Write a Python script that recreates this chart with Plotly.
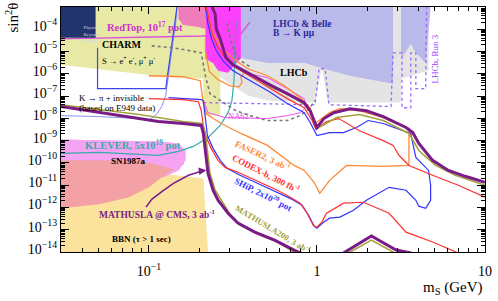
import plotly.graph_objects as go

FONT = "Liberation Serif"

# ---------------- shaded regions (mass in GeV, sin^2 theta) ----------------
bbn_m = [0.030, 0.131, 0.211, 0.225, 0.030]
bbn_s = [2.8e-11, 3.1e-11, 2.0e-11, 8e-15, 8e-15]

sn_m = [0.030, 0.160, 0.162, 0.131, 0.100, 0.0762, 0.0508, 0.030]
sn_s = [1.3e-10, 1.3e-10, 8.6e-11, 3.8e-11, 8.0e-12, 2.9e-12, 1.4e-12, 9.2e-13]

klever_m = [0.030, 0.114, 0.150, 0.165, 0.165, 0.150, 0.123, 0.0875, 0.0508, 0.030]
klever_s = [1.13e-9, 9.2e-10, 7.5e-10, 3.6e-10, 1.3e-10, 4.6e-11, 2.25e-11, 4.2e-11, 7.7e-11, 1.3e-10]

charm_m = [0.030, 0.266, 0.266, 0.211, 0.211, 0.123, 0.030]
charm_s = [1e-3, 1e-3, 1.33e-8, 1.33e-8, 6.0e-7, 7.4e-7, 2.55e-6]

lhcb_m = [0.217, 4.62, 4.62, 3.17, 3.17, 1.16, 1.07, 0.975, 0.508, 0.388, 0.296, 0.266, 0.266, 0.217]
lhcb_s = [1e-3, 1e-3, 1.37e-6, 6.0e-7, 5.1e-8, 5.1e-8, 1.87e-6, 5.1e-8, 6.3e-8, 1.05e-7, 4.0e-7, 7.4e-7, 3.8e-6, 4.7e-6]

belle_a_m = [0.353, 2.84, 2.84, 1.57, 1.10, 0.852, 0.508, 0.353]
belle_a_s = [1e-3, 1e-3, 3.6e-7, 8.2e-7, 1.69e-6, 3.1e-6, 3.1e-6, 5.2e-6]
belle_b_m = [3.17, 4.75, 4.44, 3.88, 3.62, 3.17]
belle_b_s = [1e-3, 1e-3, 3.1e-6, 8.8e-6, 2.2e-5, 4.7e-6]

pinktop_m = [0.150, 0.217, 0.217, 0.197, 0.160, 0.150]
pinktop_s = [1e-3, 1e-3, 1.04e-4, 1.28e-4, 1.57e-4, 2.9e-4]

magenta_m = [0.217, 0.353, 0.353, 0.296, 0.258, 0.241, 0.217]
magenta_s = [1e-3, 1e-3, 5.2e-6, 1.12e-6, 1.37e-6, 3.1e-6, 4.7e-6]

# ---------------- curves ----------------
redtop_m = [0.030, 0.205, 0.353, 0.399]
redtop_s = [3.7e-5, 5.0e-5, 6.2e-5, 2.1e-4]

mat_up_m = [0.238, 0.248, 0.252, 0.266, 0.276, 0.288, 0.317, 0.349, 0.415, 0.522, 0.666, 0.840,
            0.911, 0.975, 1.00, 1.10, 1.26, 1.57, 1.97, 2.48, 3.39, 3.72, 4.04, 4.88, 6.06, 7.62, 10.0]
mat_up_s = [1e-3, 4.9e-4, 1.04e-4, 3.7e-5, 1.47e-5, 5.2e-6, 2.55e-6, 1.69e-6, 8.2e-7, 3.25e-7, 1.29e-7, 5.1e-8,
            2.2e-8, 6.5e-9, 3.9e-9, 9.8e-9, 1.8e-8, 2.7e-8, 2.2e-8, 1.2e-8, 3.9e-9, 2.3e-9, 7.5e-10, 1.3e-10,
            4.6e-11, 2.5e-11, 1.35e-11]
mat_lo_m = [0.030, 0.0508, 0.0875, 0.114, 0.160, 0.205, 0.211, 0.217, 0.225, 0.241, 0.258, 0.296, 0.339,
            0.427, 0.560, 0.732, 0.817, 0.93, 1.25, 1.37, 1.44, 2.11, 2.96, 3.62, 3.88]
mat_lo_s = [3.4e-8, 1.8e-8, 9.8e-9, 7.2e-9, 5.9e-9, 4.8e-9, 2.1e-9, 3.6e-10, 3.4e-11, 5.9e-12, 2.1e-12,
            5.5e-13, 2.0e-13, 7.8e-14, 3.4e-14, 1.22e-14, 8.1e-15, 5.4e-15, 5.4e-15, 6.6e-15, 9e-15,
            5.2e-14, 1.22e-14, 9e-15, 6.6e-15]

m200_up_m = [0.245, 0.252, 0.258, 0.273, 0.288, 0.321, 0.358, 0.427, 0.530, 0.676, 0.852, 0.923, 0.975,
             1.00, 1.31, 1.79, 2.48, 3.53, 4.04, 5.08, 6.66, 10.0]
m200_up_s = [1e-3, 2.4e-4, 5.0e-5, 2.0e-5, 5.8e-6, 2.55e-6, 1.52e-6, 7.4e-7, 2.6e-7, 1.16e-7, 4.1e-8, 1.8e-8,
             5.3e-9, 3.5e-9, 1.09e-8, 1.48e-8, 8.0e-9, 2.1e-9, 3.6e-10, 7.7e-11, 2.8e-11, 9.9e-12]
m200_lo_m = [0.030, 0.0508, 0.0875, 0.160, 0.208, 0.217, 0.223, 0.231, 0.248, 0.269, 0.304, 0.349, 0.444,
             0.582, 0.694, 0.763, 1.00, 1.31, 1.50, 2.11, 2.84, 3.17]
m200_lo_s = [4.1e-8, 2.5e-8, 1.48e-8, 7.2e-9, 5.9e-9, 2.1e-9, 3.6e-10, 3.4e-11, 5.9e-12, 2.1e-12, 5.0e-13,
             1.6e-13, 6.4e-14, 2.8e-14, 1.22e-14, 8.1e-15, 3.5e-15, 5.4e-15, 8.1e-15, 3.4e-14, 1.0e-14, 6.6e-15]

codex_up_m = [0.220, 0.223, 0.229, 0.238, 0.258, 0.288, 0.330, 0.415, 0.522, 0.666, 0.840, 0.936, 0.987,
              1.14, 1.35, 1.79, 2.48, 2.84, 3.08, 3.53, 4.88, 6.94, 10.0]
codex_up_s = [1e-3, 6.6e-4, 2.4e-4, 6.2e-5, 1.47e-5, 4.7e-6, 1.87e-6, 6.7e-7, 2.4e-7, 7.7e-8, 3.0e-8, 8.0e-9,
              3.2e-9, 7.2e-9, 9.8e-9, 2.8e-9, 1.0e-9, 6.1e-10, 2.2e-10, 7.7e-11, 2.8e-11, 9.9e-12, 2.9e-12]
codex_lo_m = [0.100, 0.160, 0.197, 0.205, 0.211, 0.217, 0.235, 0.258, 0.284, 0.339, 0.444, 0.582, 0.694,
              0.795, 0.875, 0.949, 1.00, 1.07, 1.14, 1.44, 1.89, 2.69, 3.39, 4.88, 6.94, 7.62]
codex_lo_s = [7.7e-8, 6.9e-8, 5.6e-8, 2.2e-8, 4.8e-9, 1.7e-9, 4.5e-10, 1.3e-10, 6.3e-11, 3.8e-11, 1.49e-11,
              5.9e-12, 2.9e-12, 1.55e-12, 5.5e-13, 1.6e-13, 1.3e-13, 2.2e-13, 5.5e-13, 1.55e-12, 1.71e-12,
              5.5e-13, 7.8e-14, 2.8e-14, 9e-15, 6.6e-15]

ship_m = [0.131, 0.172, 0.205, 0.211, 0.217, 0.223, 0.241, 0.266, 0.292, 0.349, 0.456, 0.598, 0.713, 0.817,
          0.898, 0.962, 1.00, 1.10, 1.19, 1.37, 1.65, 1.97, 2.48, 2.69, 3.39, 3.72, 3.88, 4.04, 4.44, 4.75,
          4.75, 4.62, 3.88, 3.72, 3.62, 3.25, 2.48, 2.02, 1.72, 1.44, 1.19, 1.00, 0.962, 0.911, 0.840, 0.666,
          0.522, 0.362, 0.317, 0.276, 0.252, 0.235, 0.225, 0.220, 0.217]
ship_s = [8.5e-8, 7.7e-8, 6.9e-8, 6.3e-8, 8.0e-9, 1.7e-9, 4.5e-10, 1.3e-10, 5.7e-11, 2.8e-11, 1.1e-11,
          4.3e-12, 2.3e-12, 1.26e-12, 4.1e-13, 1.45e-13, 1.18e-13, 2.2e-13, 3.3e-13, 3.7e-13, 7.5e-13, 2.1e-12,
          5.9e-12, 8.0e-12, 5.9e-12, 2.9e-12, 2.1e-12, 1.14e-12, 9.2e-13, 2.1e-12, 9.9e-12, 4.6e-11, 1.77e-10,
          7.5e-10, 2.1e-9, 2.8e-9, 5.9e-9, 8.0e-9, 3.9e-9, 2.3e-9, 2.3e-9, 1.7e-9, 3.2e-9, 6.5e-9, 1.8e-8,
          4.6e-8, 1.58e-7, 8.2e-7, 1.37e-6, 3.8e-6, 1.08e-5, 4.1e-5, 1.7e-4, 5.4e-4, 1e-3]

faser_m = [0.100, 0.160, 0.202, 0.211, 0.220, 0.241, 0.284, 0.353, 0.508, 0.732, 0.840, 0.962, 1.04, 1.19,
           1.50, 2.48, 3.53, 3.53, 2.48, 1.79, 1.37, 1.19, 0.975, 0.911, 0.795, 0.640, 0.508, 0.388, 0.317,
           0.266, 0.238, 0.225, 0.220]
faser_s = [8.2e-7, 7.4e-7, 4.9e-7, 4.6e-8, 1.64e-8, 9.8e-9, 4.8e-9, 2.1e-9, 6.1e-10, 7.7e-11, 4.6e-11,
           1.35e-11, 4.3e-12, 1.65e-11, 7.7e-11, 7.0e-11, 7.7e-11, 3.5e-9, 1.09e-8, 2.2e-8, 2.7e-8, 1.8e-8,
           5.9e-9, 3.0e-8, 8.5e-8, 2.9e-7, 8.2e-7, 1.69e-6, 4.7e-6, 1.8e-5, 8.4e-5, 4.0e-4, 1e-3]

faser_loop_m = [0.217, 0.217, 0.229, 0.258, 0.304, 0.344, 0.358, 0.353, 0.378]
faser_loop_s = [5.0e-5, 1.08e-5, 1.24e-6, 5.4e-7, 2.9e-7, 2.6e-7, 4.0e-7, 7.4e-7, 1.37e-6]

na62_m = [0.211, 0.225, 0.284, 0.444, 0.508, 0.666, 0.795, 0.852, 0.840, 0.666, 0.508, 0.372]
na62_s = [6.3e-8, 1.8e-8, 1.09e-8, 9.8e-9, 9.8e-9, 1.33e-8, 1.8e-8, 3.0e-8, 7.7e-8, 2.15e-7, 6.7e-7, 1.12e-6]

klever_line_m = [0.030, 0.0508, 0.0875, 0.114, 0.150, 0.184, 0.225, 0.266, 0.296, 0.312, 0.321, 0.325, 0.330]
klever_line_s = [2.7e-10, 3.0e-10, 2.4e-10, 2.2e-10, 3.3e-10, 5.5e-10, 1.38e-9, 4.8e-9, 1.8e-8, 6.3e-8,
                 4.9e-7, 1.08e-5, 2.4e-4]

kpi_box_m = [0.0495, 0.0495, 0.126, 0.129, 0.135, 0.142, 0.147]
kpi_box_s = [1.47e-5, 2.15e-7, 2.15e-7, 8.2e-7, 6.4e-6, 1.4e-4, 1e-3]

e949_m = [0.030, 0.0508, 0.0875, 0.100, 0.112, 0.120, 0.126, 0.131, 0.139, 0.145, 0.147]
e949_s = [1.33e-8, 1.2e-8, 9.8e-9, 8.0e-9, 1.64e-8, 3.7e-8, 1.05e-7, 8.2e-7, 1.8e-5, 2.4e-4, 1e-3]

dot1_m = [0.104, 0.140, 0.205, 0.217, 0.231, 0.266, 0.330, 0.399, 0.508, 0.666, 0.795, 0.898, 0.975]
dot1_s = [1.8e-5, 1.47e-5, 8.8e-6, 8.2e-7, 1.29e-7, 6.3e-8, 2.2e-8, 1.33e-8, 8.0e-9, 8.0e-9, 1.33e-8,
          2.7e-8, 6.3e-8]
dot2_m = [0.292, 0.308, 0.325, 0.353, 0.399]
dot2_s = [1.9e-4, 3.0e-5, 8.8e-6, 3.8e-6, 2.1e-6]

run3_m = [0.211, 0.975, 1.03, 1.12, 1.18, 2.76, 2.84, 3.21, 3.21, 3.62, 3.62, 3.88, 3.88, 4.44, 4.5]
run3_s = [5.1e-8, 4.1e-8, 1.69e-6, 1.69e-6, 4.1e-8, 3.4e-8, 8.8e-6, 8.8e-6, 3.0e-8, 3.0e-8, 8.8e-6,
          8.8e-6, 2.15e-7, 2.15e-7, 1e-3]

arrow_m = [0.0962, 0.104, 0.120, 0.140, 0.172, 0.205]
arrow_s = [1.03e-12, 2.3e-12, 5.3e-12, 1.21e-11, 2.8e-11, 4.2e-11]

x_ticks = [0.1, 1, 10]
x_ticktext = ["10<sup>\u22121</sup>", "1", "10"]
y_ticks = [10.0 ** e for e in range(-14, -2)]
y_ticktext = ["10<sup>\u2212%d</sup>" % (-e) for e in range(-14, -2)]

PURPLE = "#7A1B87"
OLIVE = "#A3A33A"

fig = go.Figure()


def region(m, s, color):
    fig.add_trace(go.Scatter(x=m, y=s, mode="lines", fill="toself", fillcolor=color,
                             line=dict(width=0, color=color), hoverinfo="skip", showlegend=False))


def curve(m, s, color, width=1.2, dash="solid"):
    fig.add_trace(go.Scatter(x=m, y=s, mode="lines", line=dict(color=color, width=width, dash=dash),
                             hoverinfo="skip", showlegend=False))


region(bbn_m, bbn_s, "#FBE39E")
region(klever_m, klever_s, "#F6A4F1")
region(sn_m, sn_s, "#F4A1A6")
region(klever_m[:6], klever_s[:6], "#F6A4F1")
region(charm_m, charm_s, "#E9E9A6")
region(lhcb_m, lhcb_s, "#E4E4E4")
region(belle_a_m, belle_a_s, "#B9B9EA")
region(belle_b_m, belle_b_s, "#B9B9EA")
curve(redtop_m, redtop_s, "#D84FD8", 1.3)
region(pinktop_m, pinktop_s, "#EF7CBB")
region(magenta_m, magenta_s, "#FB3FFB")

curve(e949_m, e949_s, "#8C8CF5", 1.0)
curve(kpi_box_m, kpi_box_s, "#3B46F0", 1.2)
curve(klever_line_m, klever_line_s, "#3BA9A9", 1.2)
curve(dot1_m, dot1_s, "#777777", 1.6, "dot")
curve(dot2_m, dot2_s, "#777777", 1.6, "dot")
curve(run3_m, run3_s, "#9966FF", 1.3, "dot")
curve(na62_m, na62_s, "#F050F0", 1.0)
curve(faser_loop_m, faser_loop_s, "#FF8833", 1.2)
curve(faser_m, faser_s, "#FF8833", 1.3)
curve(ship_m, ship_s, "#3333FF", 1.2)
curve(codex_up_m, codex_up_s, "#FF3030", 1.2)
curve(codex_lo_m, codex_lo_s, "#FF3030", 1.2)
curve(m200_up_m, m200_up_s, OLIVE, 1.6)
curve(m200_lo_m, m200_lo_s, OLIVE, 1.6)
curve(mat_up_m, mat_up_s, PURPLE, 3.0)
curve(mat_lo_m, mat_lo_s, PURPLE, 3.0)
curve(arrow_m, arrow_s, PURPLE, 1.5)


def px(x):
    return (x - 61) / 429.0


def py(y):
    return 1 - (y - 6) / 246.0


ann = []


def label(text, x, y, color="black", size=9, angle=0, xanchor="center"):
    ann.append(dict(text=text, x=px(x), y=py(y), xref="paper", yref="paper", showarrow=False,
                    xanchor=xanchor, yanchor="middle", textangle=angle,
                    font=dict(family=FONT, size=size, color=color)))


label("<b>CHARM</b>", 100, 44, size=10, xanchor="left")
label("S \u2192 e<sup>+</sup> e<sup>-</sup>, \u03bc<sup>+</sup> \u03bc<sup>-</sup>", 100, 60, size=8.5, xanchor="left")
label("<b>RedTop, 10<sup>17</sup> pot</b>", 146, 26, color="#D030D0", size=10.5)
label("<b>LHCb &amp; Belle</b>", 273, 23.5, color="#2A2A9A", size=9.5, xanchor="left")
label("<b>B \u2192 K \u03bc\u03bc</b>", 273, 32.5, color="#2A2A9A", size=9.5, xanchor="left")
label("<b>LHCb</b>", 297, 72, size=10)
label("LHCb, Run 3", 439, 58, color="#9933FF", size=9, angle=-90)
label("K \u2192 \u03c0 + invisible", 77, 97, size=9, xanchor="left")
label("(based on E949 data)", 77, 107, size=9, xanchor="left")
label("<b>KLEVER, 5x10<sup>19</sup> pot</b>", 83, 144, color="#3BA9A9", size=10.5, xanchor="left")
label("<b>SN1987a</b>", 129, 161, size=9)
label("NA62", 241, 115, color="#E040E0", size=8.5)
label("<b>FASER2, 3 ab<sup>-1</sup></b>", 265, 155, color="#FF8833", size=9, angle=25)
label("<b>CODEX-b, 300 fb<sup>-1</sup></b>", 268, 173, color="#FF3030", size=9, angle=27)
label("<b>SHiP, 2x10<sup>20</sup> pot</b>", 266, 194, color="#3333FF", size=9, angle=27)
label("<b>MATHUSLA200, 3 ab<sup>-1</sup></b>", 276, 229, color=OLIVE, size=8.5, angle=31)
label("<b>MATHUSLA @ CMS, 3 ab<sup>-1</sup></b>", 158, 214, color=PURPLE, size=9.5)
label("<b>BBN (\u03c4 > 1 sec)</b>", 142, 239, size=9)

# arrow head of the MATHUSLA @ CMS pointer
ann.append(dict(x=px(208), y=py(170), xref="paper", yref="paper", ax=-8, ay=1, text="",
                showarrow=True, arrowhead=2, arrowsize=1, arrowwidth=1.5, arrowcolor=PURPLE))

# axis titles
ann.append(dict(text="m<sub>S</sub> (GeV)", x=1.0, y=py(288), xref="paper", yref="paper",
                showarrow=False, xanchor="right", yanchor="middle",
                font=dict(family=FONT, size=15, color="black")))
ann.append(dict(text="sin<sup>2</sup>\u03b8", x=px(11), y=py(17), xref="paper", yref="paper",
                showarrow=False, textangle=-90, xanchor="center", yanchor="middle",
                font=dict(family=FONT, size=15, color="black")))

# logo placeholder (Physics Beyond Colliders)
shapes = [dict(type="rect", xref="paper", yref="paper", x0=0, x1=px(96), y0=py(37), y1=1,
               fillcolor="#22346E", line=dict(width=0), layer="above")]
ann.append(dict(text="Physics<br>Beyond<br>Colliders", x=px(80), y=py(22), xref="paper", yref="paper",
                showarrow=False, font=dict(family=FONT, size=5, color="#C8D4F0"), align="center"))

x_minor = [k * 10.0 ** e for e in (-2, -1, 0) for k in range(2, 10) if 0.03 <= k * 10.0 ** e <= 10]
y_minor = [k * 10.0 ** e for e in range(-14, -3) for k in range(2, 10)]

fig.update_layout(width=498, height=301, margin=dict(l=61, r=8, t=6, b=49),
                  paper_bgcolor="white", plot_bgcolor="white", showlegend=False,
                  font=dict(family=FONT, color="black"), annotations=ann, shapes=shapes)
fig.update_xaxes(type="log", range=[-1.5229, 1.0003], tickmode="array", tickvals=x_ticks, ticktext=x_ticktext,
                 ticks="inside", ticklen=7, tickwidth=1.2, tickcolor="black", showline=True,
                 linecolor="black", linewidth=1.2, mirror="ticks", showgrid=False, zeroline=False,
                 ticklabelstandoff=6,
                 tickfont=dict(family=FONT, size=14, color="black"),
                 minor=dict(tickmode="array", tickvals=x_minor, ticks="inside", ticklen=4,
                            tickcolor="black", tickwidth=1, showgrid=False))
fig.update_yaxes(type="log", range=[-14.0005, -2.9995], tickmode="array", tickvals=y_ticks, ticktext=y_ticktext,
                 ticks="inside", ticklen=8, tickwidth=1.2, tickcolor="black", showline=True,
                 linecolor="black", linewidth=1.2, mirror="ticks", showgrid=False, zeroline=False,
                 ticklabelshift=-3,
                 tickfont=dict(family=FONT, size=14, color="black"),
                 minor=dict(tickmode="array", tickvals=y_minor, ticks="inside", ticklen=4,
                            tickcolor="black", tickwidth=1, showgrid=False))

fig.write_html("out.html", config={"displayModeBar": False},
               post_script="document.body.style.margin='0';")
